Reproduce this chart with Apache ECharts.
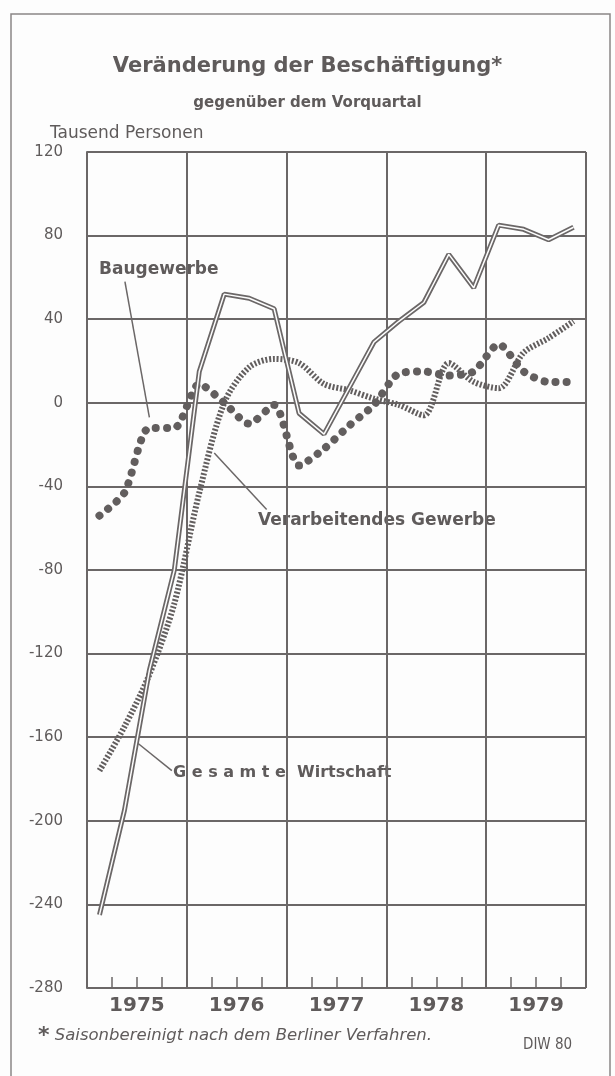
<!DOCTYPE html>
<html>
<head>
<meta charset="utf-8">
<script src="https://cdn.jsdelivr.net/npm/echarts@6/dist/echarts.min.js"></script>
<style>
  html, body { margin: 0; padding: 0; background: #fdfdfd; }
  #container { width: 615px; height: 1076px; }
</style>
</head>
<body>
<div id="container"></div>
<script>
// Jahre (Kategorien der x-Achse), Quartalswerte in Tausend Personen
var years = ['1975', '1976', '1977', '1978', '1979'];
var yTicks = [-280, -240, -200, -160, -120, -80, -40, 0, 40, 80, 120];

// Gesamte Wirtschaft (Doppellinie)
var gesamt = [-245, -195, -128, -80, 15, 52, 50, 45, -5, -15, 7, 29, 39, 48, 71, 55, 85, 83, 78, 84];
// Verarbeitendes Gewerbe (sss-Linie)
var verarb = [-176, -155, -130, -96, -43, 0, 17, 21, 19, 9, 6, 2, -1, -6, 19, 10, 7, 24, 31, 39];
// Baugewerbe (punktierte Linie)
var bau = [-54, -43, -12, -12, 9, 0, -10, -1, -30, -22, -11, -1, 14, 15, 13, 15, 28, 15, 10, 10];

var grey = '#6b6767';
var textGrey = '#5f5b5b';

function toPairs(arr) {
    var out = [];
    for (var i = 0; i < arr.length; i++) {
        out.push([i + 0.5, arr[i]]);
    }
    return out;
}

var dom = document.getElementById('container');
var myChart = echarts.init(dom, null, { renderer: 'canvas' });

var option = {
    backgroundColor: '#fdfdfd',
    animation: false,
    title: [
        {
            text: 'Veränderung der Beschäftigung*',
            left: 'center',
            top: 51,
            textStyle: { fontFamily: 'DejaVu Sans', fontWeight: 'bold', fontSize: 21, color: textGrey }
        },
        {
            text: 'gegenüber dem Vorquartal',
            left: 'center',
            top: 91,
            textStyle: { fontFamily: 'DejaVu Sans', fontWeight: 'bold', fontSize: 15, color: textGrey }
        },
        {
            text: 'Tausend Personen',
            left: 45,
            top: 120,
            textStyle: { fontFamily: 'DejaVu Sans', fontWeight: 'normal', fontSize: 17, color: textGrey }
        }
    ],
    grid: { left: 87, right: 29, top: 152, bottom: 88, containLabel: false },
    xAxis: [
        {
            type: 'category',
            data: years,
            boundaryGap: true,
            position: 'bottom',
            axisLine: { show: true, lineStyle: { color: grey, width: 2 } },
            axisTick: { show: true, length: 30, lineStyle: { color: grey, width: 2 } },
            axisLabel: { fontFamily: 'DejaVu Sans', fontWeight: 'bold', fontSize: 20, color: textGrey, margin: 8 },
            splitLine: { show: true, lineStyle: { color: grey, width: 2 } }
        },
        {
            type: 'value',
            min: 0,
            max: 20,
            interval: 1,
            position: 'bottom',
            axisLine: { show: false },
            axisTick: { show: true, inside: true, length: 11, lineStyle: { color: grey, width: 1.5 } },
            axisLabel: { show: false },
            splitLine: { show: false }
        }
    ],
    yAxis: {
        type: 'value',
        min: yTicks[0],
        max: yTicks[yTicks.length - 1],
        interval: 40,
        axisLine: { show: true, lineStyle: { color: grey, width: 2 } },
        axisTick: { show: false },
        axisLabel: { fontFamily: 'DejaVu Sans', fontSize: 15, color: textGrey, margin: 24 },
        splitLine: { show: true, lineStyle: { color: grey, width: 2 } }
    },
    series: [
        {
            name: 'Baugewerbe',
            type: 'line',
            xAxisIndex: 1,
            data: toPairs(bau),
            symbol: 'none',
            smooth: 0.25,
            z: 3,
            lineStyle: { color: '#625e5e', width: 8, type: [0.1, 11], cap: 'round' },
            markLine: {
                silent: true,
                symbol: 'none',
                label: { show: false },
                lineStyle: { color: grey, width: 1.5, type: 'solid' },
                data: [
                    [{ coord: [1.52, 58] }, { coord: [2.5, -7] }],
                    [{ coord: [7.2, -51] }, { coord: [5.1, -24] }],
                    [{ coord: [3.4, -176] }, { coord: [2.05, -163] }]
                ]
            }
        },
        {
            name: 'Verarbeitendes Gewerbe',
            type: 'line',
            xAxisIndex: 1,
            data: toPairs(verarb),
            symbol: 'none',
            smooth: 0.3,
            z: 4,
            lineStyle: { color: '#625e5e', width: 6, type: [2, 1.8] }
        },
        {
            name: 'Gesamte Wirtschaft',
            type: 'line',
            xAxisIndex: 1,
            data: toPairs(gesamt),
            symbol: 'none',
            z: 5,
            lineStyle: { color: grey, width: 5 }
        },
        {
            name: 'Gesamte Wirtschaft innen',
            type: 'line',
            xAxisIndex: 1,
            data: toPairs(gesamt),
            symbol: 'none',
            z: 6,
            lineStyle: { color: '#fdfdfd', width: 1.5 }
        }
    ],
    graphic: [
        {
            type: 'rect',
            shape: { x: 11, y: 14, width: 599, height: 1090 },
            style: { fill: 'none', stroke: '#8a8686', lineWidth: 1.5 }
        },
        {
            type: 'text',
            x: 97, y: 270,
            style: {
                text: 'Baugewerbe', fill: textGrey, font: 'bold 17px "DejaVu Sans"',
                verticalAlign: 'middle', backgroundColor: '#fdfdfd', padding: [8, 2]
            }
        },
        {
            type: 'text',
            x: 256, y: 521,
            style: {
                text: 'Verarbeitendes Gewerbe', fill: textGrey, font: 'bold 17px "DejaVu Sans"',
                verticalAlign: 'middle', backgroundColor: '#fdfdfd', padding: [8, 2]
            }
        },
        {
            type: 'text',
            x: 171, y: 773,
            style: {
                text: 'G e s a m t e  Wirtschaft', fill: textGrey, font: 'bold 16px "DejaVu Sans"',
                verticalAlign: 'middle', backgroundColor: '#fdfdfd', padding: [8, 2]
            }
        },
        {
            type: 'text',
            x: 38, y: 1036,
            style: {
                text: '{a|*}{b| Saisonbereinigt nach dem Berliner Verfahren.}',
                verticalAlign: 'middle',
                rich: {
                    a: { fontFamily: 'DejaVu Sans', fontSize: 22, fontWeight: 'bold', fill: textGrey, color: textGrey },
                    b: { fontFamily: 'DejaVu Sans', fontSize: 16.5, fontStyle: 'italic', fill: textGrey, color: textGrey }
                }
            }
        },
        {
            type: 'text',
            x: 523, y: 1045,
            style: { text: 'DIW 80', fill: textGrey, font: '15px "DejaVu Sans Condensed"', verticalAlign: 'middle' }
        }
    ]
};

if (option && typeof option === 'object') {
    myChart.setOption(option, true);
    window.onresize = function () {
        myChart.resize();
    };
}
</script>
</body>
</html>
